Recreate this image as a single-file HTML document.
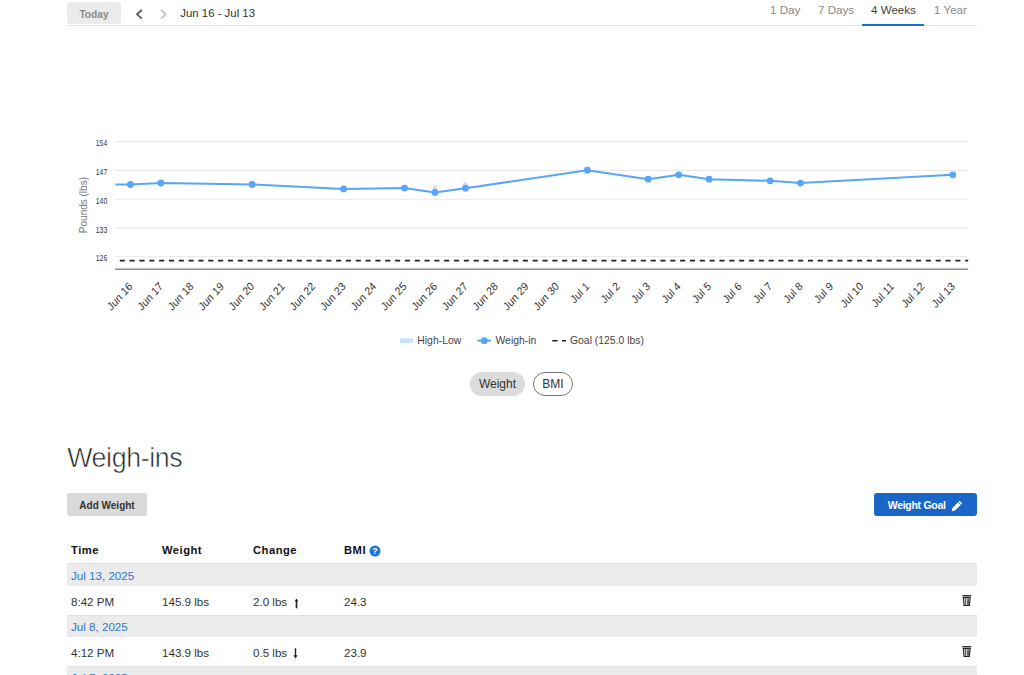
<!DOCTYPE html>
<html><head><meta charset="utf-8">
<style>
*{margin:0;padding:0;box-sizing:border-box}
html,body{width:1024px;height:675px;overflow:hidden;background:#fff;font-family:"Liberation Sans",sans-serif;color:#333}
.a{position:absolute;white-space:nowrap}
.chart{position:absolute;left:0;top:0}
.today{left:67px;top:2px;width:54px;height:22.3px;background:#ebebeb;border-radius:2.5px;color:#8a8a8a;font-size:10.2px;font-weight:bold;text-align:center;line-height:26.8px}
.topline{left:67px;top:25px;width:909.5px;height:1.2px;background:#e4e4e4}
.range{left:180.3px;top:5px;font-size:11.4px;color:#333;line-height:16px}
.tab{top:3px;font-size:11.6px;color:#888;line-height:14px}
.tabsel{left:862px;top:24px;width:62px;height:2px;background:#1a6fd6}
.h2{left:67.2px;top:441.7px;font-size:26.8px;color:#222;line-height:32px;letter-spacing:-0.4px;-webkit-text-stroke:0.6px #fff}
.addw{left:67px;top:493px;width:80px;height:23px;background:#dadada;border-radius:3px;font-size:10px;font-weight:bold;color:#333;text-align:center;line-height:26.4px}
.goal{left:874px;top:493px;width:102.5px;height:22.5px;background:#1a66c8;border-radius:3px;font-size:10.5px;font-weight:bold;color:#fff;line-height:24px;padding-left:13.8px;letter-spacing:-0.3px}
.pill{top:372px;height:24px;border-radius:12px;font-size:12px;color:#333;text-align:center;line-height:24px}
.th{top:542.8px;font-size:11.2px;font-weight:bold;color:#111;line-height:14px;letter-spacing:0.5px}
.band{left:67px;width:909.5px;background:#ebebeb;border-top:1px solid #e0e0e0}
.date{left:71px;font-size:11.6px;color:#2b77d2;line-height:14px}
.cell{font-size:11.6px;color:#333;line-height:14px}
</style></head><body>
<div class="a today">Today</div>
<svg class="a" style="left:135px;top:9px" width="9" height="11" viewBox="0 0 9 11"><path d="M6.8 1 L2 5.3 L6.8 9.6" fill="none" stroke="#555" stroke-width="1.7"/></svg>
<svg class="a" style="left:159px;top:9px" width="9" height="11" viewBox="0 0 9 11"><path d="M2 1 L6.8 5.3 L2 9.6" fill="none" stroke="#c4c4c4" stroke-width="1.7"/></svg>
<div class="a range">Jun 16 - Jul 13</div>
<div class="a topline"></div>
<div class="a tab" style="left:770px">1 Day</div>
<div class="a tab" style="left:818px">7 Days</div>
<div class="a tab" style="left:871px;color:#444">4 Weeks</div>
<div class="a tab" style="left:934px">1 Year</div>
<div class="a tabsel"></div>
<svg class="chart" width="1024" height="360" viewBox="0 0 1024 360">
<g stroke="#e8e8e8" stroke-width="1"><path d="M115.2 141.5 H968.2"/>
<path d="M115.2 170.4 H968.2"/>
<path d="M115.2 199.2 H968.2"/>
<path d="M115.2 228 H968.2"/>
<path d="M115.2 256.6 H968.2"/></g>
<g font-family="Liberation Sans, sans-serif" font-size="8.6" fill="#333"><text x="95.8" y="146.0" textLength="11.4" lengthAdjust="spacingAndGlyphs">154</text>
<text x="95.8" y="174.9" textLength="11.4" lengthAdjust="spacingAndGlyphs">147</text>
<text x="95.8" y="203.7" textLength="11.4" lengthAdjust="spacingAndGlyphs">140</text>
<text x="95.8" y="232.5" textLength="11.4" lengthAdjust="spacingAndGlyphs">133</text>
<text x="95.8" y="261.1" textLength="11.4" lengthAdjust="spacingAndGlyphs">126</text></g>
<text x="0" y="0" transform="translate(86.6 205.1) rotate(-90)" text-anchor="middle" font-family="Liberation Sans, sans-serif" font-size="10" fill="#777">Pounds (lbs)</text>
<path d="M119.8 260.6 H968.2" stroke="#222" stroke-width="1.6" stroke-dasharray="5.1 4.73"/>
<path d="M115.2 269.2 H968.2" stroke="#8a8a8a" stroke-width="1.6"/>
<g stroke="#c9e2fb" stroke-width="4.2" stroke-linecap="round"><path d="M435 187 V192"/><path d="M465.2 184 V188"/></g>
<path d="M115.2 184.5 L130.4 184.5 L160.9 183.0 L252.2 184.5 L343.6 188.9 L404.5 188.1 L435.0 192.4 L465.5 188.2 L587.3 170.2 L648.2 179.2 L678.7 174.8 L709.1 179.2 L770.1 180.8 L800.5 183.1 L952.8 174.8" fill="none" stroke="#57a6f7" stroke-width="2"/>
<g fill="#57a6f7"><circle cx="130.4" cy="184.5" r="3.4"/>
<circle cx="160.9" cy="183.0" r="3.4"/>
<circle cx="252.2" cy="184.5" r="3.4"/>
<circle cx="343.6" cy="188.9" r="3.4"/>
<circle cx="404.5" cy="188.1" r="3.4"/>
<circle cx="435.0" cy="192.4" r="3.4"/>
<circle cx="465.5" cy="188.2" r="3.4"/>
<circle cx="587.3" cy="170.2" r="3.4"/>
<circle cx="648.2" cy="179.2" r="3.4"/>
<circle cx="678.7" cy="174.8" r="3.4"/>
<circle cx="709.1" cy="179.2" r="3.4"/>
<circle cx="770.1" cy="180.8" r="3.4"/>
<circle cx="800.5" cy="183.1" r="3.4"/>
<circle cx="952.8" cy="174.8" r="3.4"/></g>
<g font-family="Liberation Sans, sans-serif" font-size="10.4" fill="#333"><text transform="translate(133.1 287.0) scale(0.99 1.1) rotate(-45)" text-anchor="end">Jun 16</text>
<text transform="translate(163.6 287.0) scale(0.99 1.1) rotate(-45)" text-anchor="end">Jun 17</text>
<text transform="translate(194.0 287.0) scale(0.99 1.1) rotate(-45)" text-anchor="end">Jun 18</text>
<text transform="translate(224.5 287.0) scale(0.99 1.1) rotate(-45)" text-anchor="end">Jun 19</text>
<text transform="translate(254.9 287.0) scale(0.99 1.1) rotate(-45)" text-anchor="end">Jun 20</text>
<text transform="translate(285.4 287.0) scale(0.99 1.1) rotate(-45)" text-anchor="end">Jun 21</text>
<text transform="translate(315.9 287.0) scale(0.99 1.1) rotate(-45)" text-anchor="end">Jun 22</text>
<text transform="translate(346.3 287.0) scale(0.99 1.1) rotate(-45)" text-anchor="end">Jun 23</text>
<text transform="translate(376.8 287.0) scale(0.99 1.1) rotate(-45)" text-anchor="end">Jun 24</text>
<text transform="translate(407.2 287.0) scale(0.99 1.1) rotate(-45)" text-anchor="end">Jun 25</text>
<text transform="translate(437.7 287.0) scale(0.99 1.1) rotate(-45)" text-anchor="end">Jun 26</text>
<text transform="translate(468.2 287.0) scale(0.99 1.1) rotate(-45)" text-anchor="end">Jun 27</text>
<text transform="translate(498.6 287.0) scale(0.99 1.1) rotate(-45)" text-anchor="end">Jun 28</text>
<text transform="translate(529.1 287.0) scale(0.99 1.1) rotate(-45)" text-anchor="end">Jun 29</text>
<text transform="translate(559.5 287.0) scale(0.99 1.1) rotate(-45)" text-anchor="end">Jun 30</text>
<text transform="translate(590.0 287.0) scale(0.99 1.1) rotate(-45)" text-anchor="end">Jul 1</text>
<text transform="translate(620.5 287.0) scale(0.99 1.1) rotate(-45)" text-anchor="end">Jul 2</text>
<text transform="translate(650.9 287.0) scale(0.99 1.1) rotate(-45)" text-anchor="end">Jul 3</text>
<text transform="translate(681.4 287.0) scale(0.99 1.1) rotate(-45)" text-anchor="end">Jul 4</text>
<text transform="translate(711.8 287.0) scale(0.99 1.1) rotate(-45)" text-anchor="end">Jul 5</text>
<text transform="translate(742.3 287.0) scale(0.99 1.1) rotate(-45)" text-anchor="end">Jul 6</text>
<text transform="translate(772.8 287.0) scale(0.99 1.1) rotate(-45)" text-anchor="end">Jul 7</text>
<text transform="translate(803.2 287.0) scale(0.99 1.1) rotate(-45)" text-anchor="end">Jul 8</text>
<text transform="translate(833.7 287.0) scale(0.99 1.1) rotate(-45)" text-anchor="end">Jul 9</text>
<text transform="translate(864.1 287.0) scale(0.99 1.1) rotate(-45)" text-anchor="end">Jul 10</text>
<text transform="translate(894.6 287.0) scale(0.99 1.1) rotate(-45)" text-anchor="end">Jul 11</text>
<text transform="translate(925.1 287.0) scale(0.99 1.1) rotate(-45)" text-anchor="end">Jul 12</text>
<text transform="translate(955.5 287.0) scale(0.99 1.1) rotate(-45)" text-anchor="end">Jul 13</text></g>
<rect x="400" y="338.3" width="13" height="4.8" fill="#c9e2fb"/>
<text x="417.3" y="343.9" font-family="Liberation Sans, sans-serif" font-size="10.4" fill="#444">High-Low</text>
<path d="M477.6 340.7 H491" stroke="#57a6f7" stroke-width="2"/><circle cx="484.3" cy="340.7" r="3.4" fill="#57a6f7"/>
<text x="495.5" y="343.9" font-family="Liberation Sans, sans-serif" font-size="10.4" fill="#444">Weigh-in</text>
<path d="M552.2 340.7 H566" stroke="#222" stroke-width="1.6" stroke-dasharray="5.4 4.4"/>
<text x="570" y="343.9" font-family="Liberation Sans, sans-serif" font-size="10.4" fill="#444">Goal (125.0 lbs)</text>
</svg>
<div class="a pill" style="left:470px;width:55px;background:#dcdcdc">Weight</div>
<div class="a pill" style="left:533px;width:40px;border:1px solid #777;line-height:22px">BMI</div>
<div class="a h2">Weigh-ins</div>
<div class="a addw">Add Weight</div>
<div class="a goal">Weight Goal<svg style="position:absolute;left:77px;top:6.5px" width="12" height="12" viewBox="0 0 12 12"><path d="M8.6 0.8 L11.2 3.4 L4 10.6 L0.8 11.2 L1.4 8 Z" fill="#fff"/><path d="M7.2 2.2 L9.8 4.8" stroke="#1a66c8" stroke-width="0.8"/></svg></div>
<div class="a th" style="left:71px">Time</div>
<div class="a th" style="left:162px">Weight</div>
<div class="a th" style="left:253px">Change</div>
<div class="a th" style="left:344px">BMI</div>
<svg class="a" style="left:369.1px;top:544.5px" width="12" height="12" viewBox="0 0 12 12"><circle cx="6" cy="6" r="5.5" fill="#1f74d8"/><text x="6" y="9.1" text-anchor="middle" font-family="Liberation Sans" font-weight="bold" font-size="8.8" fill="#fff">?</text></svg>
<div class="a band" style="top:563px;height:22.6px"></div>
<div class="a date" style="top:569px">Jul 13, 2025</div>
<div class="a cell" style="left:71px;top:595px">8:42 PM</div>
<div class="a cell" style="left:162px;top:595px">145.9 lbs</div>
<div class="a cell" style="left:253px;top:595px">2.0 lbs</div>
<div class="a cell" style="left:344px;top:595px">24.3</div>
<div class="a band" style="top:615px;height:22px"></div>
<div class="a date" style="top:620.3px">Jul 8, 2025</div>
<div class="a cell" style="left:71px;top:646px">4:12 PM</div>
<div class="a cell" style="left:162px;top:646px">143.9 lbs</div>
<div class="a cell" style="left:253px;top:646px">0.5 lbs</div>
<div class="a cell" style="left:344px;top:646px">23.9</div>
<div class="a band" style="top:666.3px;height:22px"></div>
<div class="a date" style="top:671.3px">Jul 7, 2025</div>
<svg class="a" style="left:293.5px;top:597.5px" width="5" height="11" viewBox="0 0 5 11"><path d="M2.5 0.5 L4.4 3.3 H3.3 V10.2 H1.7 V3.3 H0.6 Z" fill="#222"/></svg>
<svg class="a" style="left:292.9px;top:647.5px" width="5" height="11" viewBox="0 0 5 11"><path d="M2.5 10.4 L4.6 7.2 H3.2 V0.3 H1.8 V7.2 H0.4 Z" fill="#222"/></svg>
<svg class="a" style="left:961.5px;top:594.6px" width="10" height="12" viewBox="0 0 10 12"><rect x="0.2" y="0.1" width="9.1" height="1.4" rx="0.4" fill="#333"/><path d="M0.7 2.1 H8.8 L7.9 11 H1.6 Z" fill="#222"/><path d="M1.9 3.3 H7.6 L6.9 9.8 H2.6 Z" fill="#e8e8e8"/><path d="M3.5 3.8 V9.4 M5.1 3.8 L5.6 9.4 M6.5 3.8 V9.4" stroke="#333" stroke-width="0.8"/></svg>
<svg class="a" style="left:961.5px;top:646.1px" width="10" height="12" viewBox="0 0 10 12"><rect x="0.2" y="0.1" width="9.1" height="1.4" rx="0.4" fill="#333"/><path d="M0.7 2.1 H8.8 L7.9 11 H1.6 Z" fill="#222"/><path d="M1.9 3.3 H7.6 L6.9 9.8 H2.6 Z" fill="#e8e8e8"/><path d="M3.5 3.8 V9.4 M5.1 3.8 L5.6 9.4 M6.5 3.8 V9.4" stroke="#333" stroke-width="0.8"/></svg>
</body></html>
